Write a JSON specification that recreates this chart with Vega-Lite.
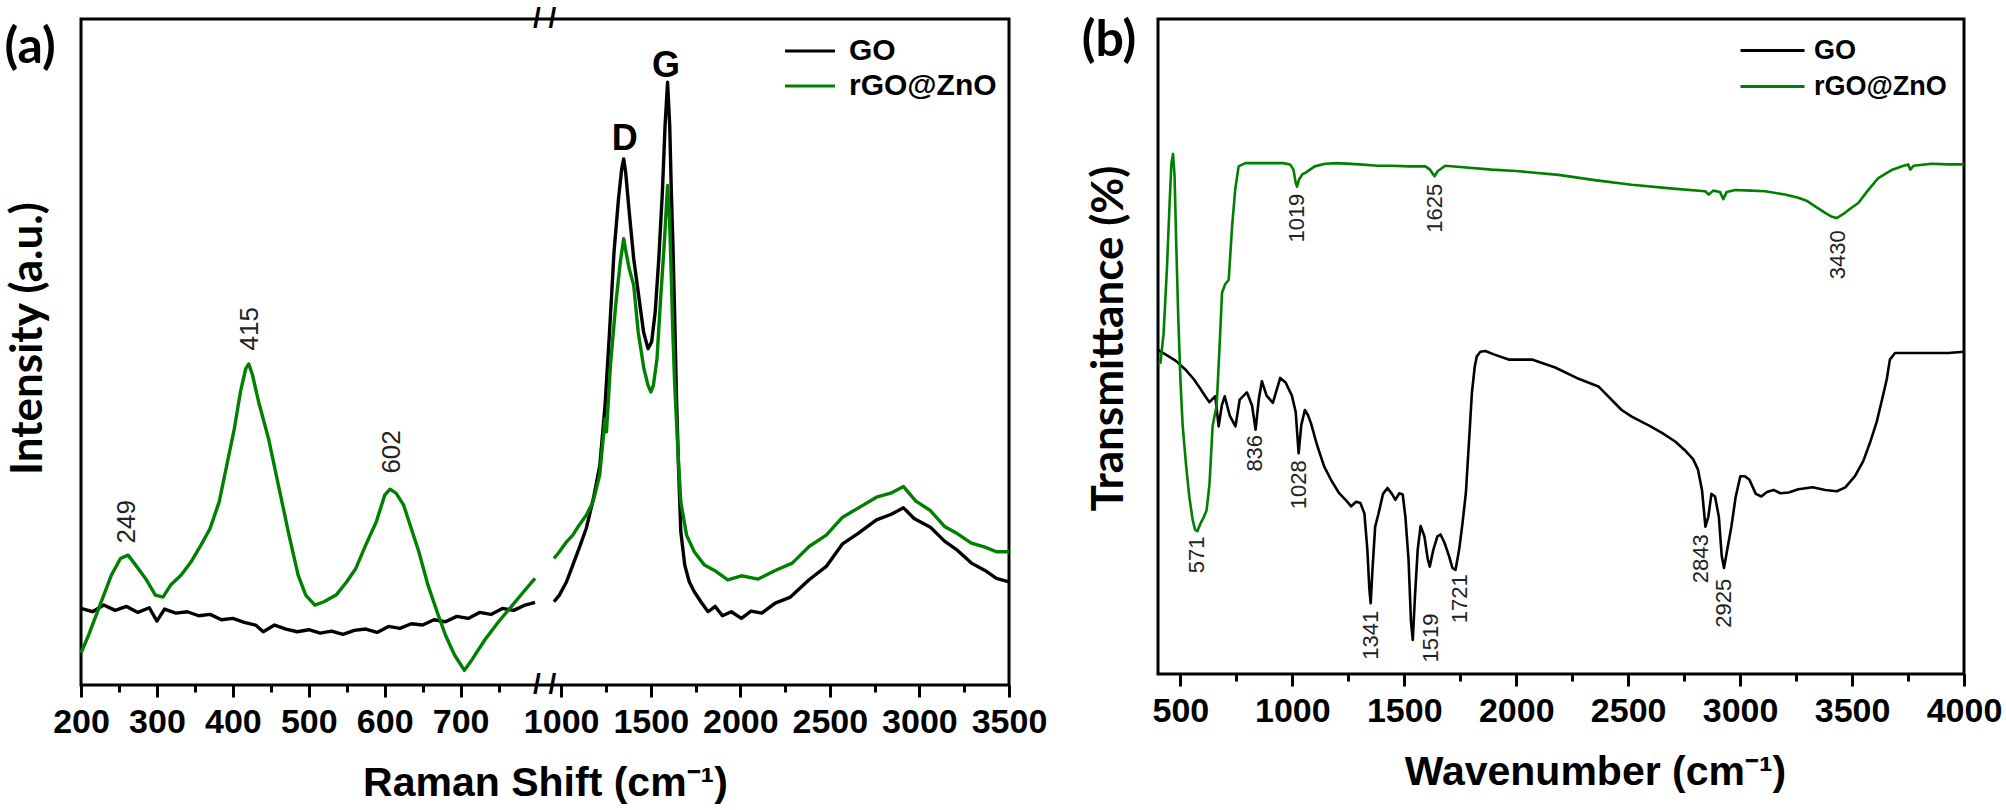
{
  "$schema": "https://vega.github.io/schema/vega-lite/v6.json",
  "background": "white",
  "padding": {"left": 3, "top": 3, "right": 5, "bottom": 2},
  "spacing": 31,
  "config": {
    "view": {"stroke": "black", "strokeWidth": 3},
    "axis": {
      "labelFont": "Liberation Sans",
      "labelFontWeight": "bold", "labelFontSize": 34, "labelColor": "black", "labelOverlap": false, "labelFlush": false,
      "tickColor": "black", "tickWidth": 3, "grid": false, "domain": false,
      "titleFont": "Liberation Sans",
      "titleFontWeight": "bold", "titleFontSize": 41, "titleColor": "black"
    },
    "legend": {
      "orient": "none", "title": null, "symbolStrokeWidth": 3,
      "labelFont": "Liberation Sans", "labelFontWeight": "bold", "labelColor": "black",
      "padding": 0
    }
  },
  "datasets": {
    "raman": [
      {"sample": "GO", "part": "L", "shift": 200, "intensity": 11.5},
      {"sample": "GO", "part": "L", "shift": 215, "intensity": 11.0},
      {"sample": "GO", "part": "L", "shift": 230, "intensity": 12.0},
      {"sample": "GO", "part": "L", "shift": 245, "intensity": 11.2},
      {"sample": "GO", "part": "L", "shift": 260, "intensity": 11.8},
      {"sample": "GO", "part": "L", "shift": 275, "intensity": 10.9},
      {"sample": "GO", "part": "L", "shift": 290, "intensity": 11.6},
      {"sample": "GO", "part": "L", "shift": 300, "intensity": 9.6},
      {"sample": "GO", "part": "L", "shift": 310, "intensity": 11.4},
      {"sample": "GO", "part": "L", "shift": 325, "intensity": 10.8},
      {"sample": "GO", "part": "L", "shift": 340, "intensity": 11.0},
      {"sample": "GO", "part": "L", "shift": 355, "intensity": 10.4},
      {"sample": "GO", "part": "L", "shift": 370, "intensity": 10.6},
      {"sample": "GO", "part": "L", "shift": 385, "intensity": 9.8},
      {"sample": "GO", "part": "L", "shift": 400, "intensity": 10.0},
      {"sample": "GO", "part": "L", "shift": 415, "intensity": 9.4},
      {"sample": "GO", "part": "L", "shift": 430, "intensity": 9.0},
      {"sample": "GO", "part": "L", "shift": 440, "intensity": 8.0},
      {"sample": "GO", "part": "L", "shift": 455, "intensity": 9.0},
      {"sample": "GO", "part": "L", "shift": 470, "intensity": 8.4},
      {"sample": "GO", "part": "L", "shift": 485, "intensity": 8.0},
      {"sample": "GO", "part": "L", "shift": 500, "intensity": 8.3},
      {"sample": "GO", "part": "L", "shift": 515, "intensity": 7.8},
      {"sample": "GO", "part": "L", "shift": 530, "intensity": 8.1},
      {"sample": "GO", "part": "L", "shift": 545, "intensity": 7.6},
      {"sample": "GO", "part": "L", "shift": 560, "intensity": 8.2},
      {"sample": "GO", "part": "L", "shift": 575, "intensity": 8.4},
      {"sample": "GO", "part": "L", "shift": 590, "intensity": 7.9},
      {"sample": "GO", "part": "L", "shift": 605, "intensity": 8.8},
      {"sample": "GO", "part": "L", "shift": 620, "intensity": 8.5},
      {"sample": "GO", "part": "L", "shift": 635, "intensity": 9.2},
      {"sample": "GO", "part": "L", "shift": 650, "intensity": 9.0},
      {"sample": "GO", "part": "L", "shift": 665, "intensity": 9.8},
      {"sample": "GO", "part": "L", "shift": 680, "intensity": 9.5},
      {"sample": "GO", "part": "L", "shift": 695, "intensity": 10.3},
      {"sample": "GO", "part": "L", "shift": 710, "intensity": 10.0},
      {"sample": "GO", "part": "L", "shift": 725, "intensity": 10.9},
      {"sample": "GO", "part": "L", "shift": 740, "intensity": 10.6},
      {"sample": "GO", "part": "L", "shift": 755, "intensity": 11.5},
      {"sample": "GO", "part": "L", "shift": 770, "intensity": 11.2},
      {"sample": "GO", "part": "L", "shift": 785, "intensity": 12.0},
      {"sample": "GO", "part": "L", "shift": 798, "intensity": 12.4},
      {"sample": "rGO@ZnO", "part": "L", "shift": 200, "intensity": 4.8},
      {"sample": "rGO@ZnO", "part": "L", "shift": 210, "intensity": 7.5},
      {"sample": "rGO@ZnO", "part": "L", "shift": 225, "intensity": 12.0},
      {"sample": "rGO@ZnO", "part": "L", "shift": 240, "intensity": 16.5},
      {"sample": "rGO@ZnO", "part": "L", "shift": 252, "intensity": 19.0},
      {"sample": "rGO@ZnO", "part": "L", "shift": 262, "intensity": 19.5},
      {"sample": "rGO@ZnO", "part": "L", "shift": 272, "intensity": 18.0},
      {"sample": "rGO@ZnO", "part": "L", "shift": 285, "intensity": 16.0},
      {"sample": "rGO@ZnO", "part": "L", "shift": 298, "intensity": 13.5},
      {"sample": "rGO@ZnO", "part": "L", "shift": 308, "intensity": 13.2},
      {"sample": "rGO@ZnO", "part": "L", "shift": 318, "intensity": 15.0},
      {"sample": "rGO@ZnO", "part": "L", "shift": 332, "intensity": 16.5},
      {"sample": "rGO@ZnO", "part": "L", "shift": 345, "intensity": 18.5},
      {"sample": "rGO@ZnO", "part": "L", "shift": 358, "intensity": 21.0},
      {"sample": "rGO@ZnO", "part": "L", "shift": 370, "intensity": 23.5},
      {"sample": "rGO@ZnO", "part": "L", "shift": 382, "intensity": 27.5},
      {"sample": "rGO@ZnO", "part": "L", "shift": 392, "intensity": 33.0},
      {"sample": "rGO@ZnO", "part": "L", "shift": 402, "intensity": 38.5},
      {"sample": "rGO@ZnO", "part": "L", "shift": 410, "intensity": 44.0},
      {"sample": "rGO@ZnO", "part": "L", "shift": 417, "intensity": 47.5},
      {"sample": "rGO@ZnO", "part": "L", "shift": 421, "intensity": 48.2},
      {"sample": "rGO@ZnO", "part": "L", "shift": 426, "intensity": 46.5},
      {"sample": "rGO@ZnO", "part": "L", "shift": 434, "intensity": 42.5},
      {"sample": "rGO@ZnO", "part": "L", "shift": 447, "intensity": 37.0},
      {"sample": "rGO@ZnO", "part": "L", "shift": 460, "intensity": 30.0},
      {"sample": "rGO@ZnO", "part": "L", "shift": 474, "intensity": 22.5},
      {"sample": "rGO@ZnO", "part": "L", "shift": 486, "intensity": 16.5},
      {"sample": "rGO@ZnO", "part": "L", "shift": 496, "intensity": 13.5},
      {"sample": "rGO@ZnO", "part": "L", "shift": 508, "intensity": 12.0},
      {"sample": "rGO@ZnO", "part": "L", "shift": 520, "intensity": 12.5},
      {"sample": "rGO@ZnO", "part": "L", "shift": 536, "intensity": 13.5},
      {"sample": "rGO@ZnO", "part": "L", "shift": 550, "intensity": 15.5},
      {"sample": "rGO@ZnO", "part": "L", "shift": 562, "intensity": 17.5},
      {"sample": "rGO@ZnO", "part": "L", "shift": 575, "intensity": 21.0},
      {"sample": "rGO@ZnO", "part": "L", "shift": 589, "intensity": 24.5},
      {"sample": "rGO@ZnO", "part": "L", "shift": 600, "intensity": 28.5},
      {"sample": "rGO@ZnO", "part": "L", "shift": 607, "intensity": 29.4},
      {"sample": "rGO@ZnO", "part": "L", "shift": 615, "intensity": 28.8},
      {"sample": "rGO@ZnO", "part": "L", "shift": 625, "intensity": 27.0},
      {"sample": "rGO@ZnO", "part": "L", "shift": 635, "intensity": 23.5},
      {"sample": "rGO@ZnO", "part": "L", "shift": 645, "intensity": 20.0},
      {"sample": "rGO@ZnO", "part": "L", "shift": 657, "intensity": 15.0},
      {"sample": "rGO@ZnO", "part": "L", "shift": 669, "intensity": 11.0},
      {"sample": "rGO@ZnO", "part": "L", "shift": 680, "intensity": 7.5},
      {"sample": "rGO@ZnO", "part": "L", "shift": 692, "intensity": 4.5},
      {"sample": "rGO@ZnO", "part": "L", "shift": 705, "intensity": 2.2},
      {"sample": "rGO@ZnO", "part": "L", "shift": 715, "intensity": 3.8},
      {"sample": "rGO@ZnO", "part": "L", "shift": 732, "intensity": 6.8},
      {"sample": "rGO@ZnO", "part": "L", "shift": 750, "intensity": 9.5},
      {"sample": "rGO@ZnO", "part": "L", "shift": 767, "intensity": 11.8},
      {"sample": "rGO@ZnO", "part": "L", "shift": 783, "intensity": 14.0},
      {"sample": "rGO@ZnO", "part": "L", "shift": 798, "intensity": 16.0},
      {"sample": "GO", "part": "R", "shift": 960, "intensity": 12.5},
      {"sample": "GO", "part": "R", "shift": 990, "intensity": 13.5},
      {"sample": "GO", "part": "R", "shift": 1030, "intensity": 15.5},
      {"sample": "GO", "part": "R", "shift": 1065, "intensity": 18.0},
      {"sample": "GO", "part": "R", "shift": 1100, "intensity": 20.5},
      {"sample": "GO", "part": "R", "shift": 1140, "intensity": 23.5},
      {"sample": "GO", "part": "R", "shift": 1180, "intensity": 28.0},
      {"sample": "GO", "part": "R", "shift": 1216, "intensity": 33.0},
      {"sample": "GO", "part": "R", "shift": 1245, "intensity": 42.0},
      {"sample": "GO", "part": "R", "shift": 1270, "intensity": 53.0},
      {"sample": "GO", "part": "R", "shift": 1295, "intensity": 65.0},
      {"sample": "GO", "part": "R", "shift": 1320, "intensity": 73.0},
      {"sample": "GO", "part": "R", "shift": 1338, "intensity": 77.5},
      {"sample": "GO", "part": "R", "shift": 1349, "intensity": 79.0},
      {"sample": "GO", "part": "R", "shift": 1360, "intensity": 77.0},
      {"sample": "GO", "part": "R", "shift": 1380, "intensity": 71.0},
      {"sample": "GO", "part": "R", "shift": 1405, "intensity": 64.0},
      {"sample": "GO", "part": "R", "shift": 1430, "intensity": 59.0},
      {"sample": "GO", "part": "R", "shift": 1460, "intensity": 53.0},
      {"sample": "GO", "part": "R", "shift": 1485, "intensity": 50.5},
      {"sample": "GO", "part": "R", "shift": 1505, "intensity": 51.5},
      {"sample": "GO", "part": "R", "shift": 1525, "intensity": 56.0},
      {"sample": "GO", "part": "R", "shift": 1545, "intensity": 64.0},
      {"sample": "GO", "part": "R", "shift": 1565, "intensity": 74.0},
      {"sample": "GO", "part": "R", "shift": 1580, "intensity": 84.0},
      {"sample": "GO", "part": "R", "shift": 1594, "intensity": 90.5},
      {"sample": "GO", "part": "R", "shift": 1606, "intensity": 84.0},
      {"sample": "GO", "part": "R", "shift": 1615, "intensity": 74.0},
      {"sample": "GO", "part": "R", "shift": 1624, "intensity": 66.0},
      {"sample": "GO", "part": "R", "shift": 1634, "intensity": 55.0},
      {"sample": "GO", "part": "R", "shift": 1644, "intensity": 43.0},
      {"sample": "GO", "part": "R", "shift": 1656, "intensity": 32.0},
      {"sample": "GO", "part": "R", "shift": 1668, "intensity": 23.0},
      {"sample": "GO", "part": "R", "shift": 1690, "intensity": 18.0},
      {"sample": "GO", "part": "R", "shift": 1715, "intensity": 15.5},
      {"sample": "GO", "part": "R", "shift": 1743, "intensity": 14.0},
      {"sample": "GO", "part": "R", "shift": 1780, "intensity": 12.5},
      {"sample": "GO", "part": "R", "shift": 1820, "intensity": 11.0},
      {"sample": "GO", "part": "R", "shift": 1860, "intensity": 11.8},
      {"sample": "GO", "part": "R", "shift": 1900, "intensity": 10.4},
      {"sample": "GO", "part": "R", "shift": 1950, "intensity": 11.0},
      {"sample": "GO", "part": "R", "shift": 2006, "intensity": 10.0},
      {"sample": "GO", "part": "R", "shift": 2060, "intensity": 11.1},
      {"sample": "GO", "part": "R", "shift": 2120, "intensity": 10.8},
      {"sample": "GO", "part": "R", "shift": 2195, "intensity": 12.3},
      {"sample": "GO", "part": "R", "shift": 2280, "intensity": 13.2},
      {"sample": "GO", "part": "R", "shift": 2384, "intensity": 15.8},
      {"sample": "GO", "part": "R", "shift": 2480, "intensity": 17.8},
      {"sample": "GO", "part": "R", "shift": 2571, "intensity": 21.2},
      {"sample": "GO", "part": "R", "shift": 2660, "intensity": 22.8},
      {"sample": "GO", "part": "R", "shift": 2760, "intensity": 24.8},
      {"sample": "GO", "part": "R", "shift": 2840, "intensity": 25.6},
      {"sample": "GO", "part": "R", "shift": 2911, "intensity": 26.6},
      {"sample": "GO", "part": "R", "shift": 2970, "intensity": 25.0},
      {"sample": "GO", "part": "R", "shift": 3061, "intensity": 23.7},
      {"sample": "GO", "part": "R", "shift": 3140, "intensity": 21.6},
      {"sample": "GO", "part": "R", "shift": 3213, "intensity": 20.2},
      {"sample": "GO", "part": "R", "shift": 3290, "intensity": 18.3},
      {"sample": "GO", "part": "R", "shift": 3366, "intensity": 17.2},
      {"sample": "GO", "part": "R", "shift": 3430, "intensity": 16.0},
      {"sample": "GO", "part": "R", "shift": 3500, "intensity": 15.5},
      {"sample": "rGO@ZnO", "part": "R", "shift": 960, "intensity": 19.0},
      {"sample": "rGO@ZnO", "part": "R", "shift": 990, "intensity": 20.0},
      {"sample": "rGO@ZnO", "part": "R", "shift": 1030, "intensity": 21.5},
      {"sample": "rGO@ZnO", "part": "R", "shift": 1065, "intensity": 22.5},
      {"sample": "rGO@ZnO", "part": "R", "shift": 1100, "intensity": 24.0},
      {"sample": "rGO@ZnO", "part": "R", "shift": 1140, "intensity": 25.5},
      {"sample": "rGO@ZnO", "part": "R", "shift": 1178, "intensity": 27.5},
      {"sample": "rGO@ZnO", "part": "R", "shift": 1215, "intensity": 31.5},
      {"sample": "rGO@ZnO", "part": "R", "shift": 1245, "intensity": 40.0},
      {"sample": "rGO@ZnO", "part": "R", "shift": 1253, "intensity": 38.0},
      {"sample": "rGO@ZnO", "part": "R", "shift": 1275, "intensity": 48.0},
      {"sample": "rGO@ZnO", "part": "R", "shift": 1306, "intensity": 57.5},
      {"sample": "rGO@ZnO", "part": "R", "shift": 1330, "intensity": 63.5},
      {"sample": "rGO@ZnO", "part": "R", "shift": 1349, "intensity": 67.0},
      {"sample": "rGO@ZnO", "part": "R", "shift": 1362, "intensity": 65.0},
      {"sample": "rGO@ZnO", "part": "R", "shift": 1380, "intensity": 62.5},
      {"sample": "rGO@ZnO", "part": "R", "shift": 1405, "intensity": 60.0},
      {"sample": "rGO@ZnO", "part": "R", "shift": 1430, "intensity": 53.0},
      {"sample": "rGO@ZnO", "part": "R", "shift": 1462, "intensity": 47.5},
      {"sample": "rGO@ZnO", "part": "R", "shift": 1485, "intensity": 45.0},
      {"sample": "rGO@ZnO", "part": "R", "shift": 1501, "intensity": 44.0},
      {"sample": "rGO@ZnO", "part": "R", "shift": 1515, "intensity": 45.0},
      {"sample": "rGO@ZnO", "part": "R", "shift": 1535, "intensity": 49.0},
      {"sample": "rGO@ZnO", "part": "R", "shift": 1554, "intensity": 57.5},
      {"sample": "rGO@ZnO", "part": "R", "shift": 1575, "intensity": 66.0},
      {"sample": "rGO@ZnO", "part": "R", "shift": 1594, "intensity": 75.0},
      {"sample": "rGO@ZnO", "part": "R", "shift": 1605, "intensity": 70.0},
      {"sample": "rGO@ZnO", "part": "R", "shift": 1614, "intensity": 62.0},
      {"sample": "rGO@ZnO", "part": "R", "shift": 1624, "intensity": 52.5},
      {"sample": "rGO@ZnO", "part": "R", "shift": 1634, "intensity": 45.0},
      {"sample": "rGO@ZnO", "part": "R", "shift": 1644, "intensity": 39.5},
      {"sample": "rGO@ZnO", "part": "R", "shift": 1656, "intensity": 33.0},
      {"sample": "rGO@ZnO", "part": "R", "shift": 1668, "intensity": 27.5},
      {"sample": "rGO@ZnO", "part": "R", "shift": 1700, "intensity": 22.5},
      {"sample": "rGO@ZnO", "part": "R", "shift": 1743, "intensity": 20.0},
      {"sample": "rGO@ZnO", "part": "R", "shift": 1800, "intensity": 18.0},
      {"sample": "rGO@ZnO", "part": "R", "shift": 1856, "intensity": 17.2},
      {"sample": "rGO@ZnO", "part": "R", "shift": 1930, "intensity": 15.8},
      {"sample": "rGO@ZnO", "part": "R", "shift": 2006, "intensity": 16.4},
      {"sample": "rGO@ZnO", "part": "R", "shift": 2100, "intensity": 15.9},
      {"sample": "rGO@ZnO", "part": "R", "shift": 2195, "intensity": 17.2},
      {"sample": "rGO@ZnO", "part": "R", "shift": 2290, "intensity": 18.3},
      {"sample": "rGO@ZnO", "part": "R", "shift": 2384, "intensity": 20.8},
      {"sample": "rGO@ZnO", "part": "R", "shift": 2480, "intensity": 22.5},
      {"sample": "rGO@ZnO", "part": "R", "shift": 2571, "intensity": 25.2},
      {"sample": "rGO@ZnO", "part": "R", "shift": 2660, "intensity": 26.6},
      {"sample": "rGO@ZnO", "part": "R", "shift": 2760, "intensity": 28.2},
      {"sample": "rGO@ZnO", "part": "R", "shift": 2840, "intensity": 28.8},
      {"sample": "rGO@ZnO", "part": "R", "shift": 2911, "intensity": 29.8},
      {"sample": "rGO@ZnO", "part": "R", "shift": 2980, "intensity": 27.6},
      {"sample": "rGO@ZnO", "part": "R", "shift": 3061, "intensity": 26.2},
      {"sample": "rGO@ZnO", "part": "R", "shift": 3140, "intensity": 23.8},
      {"sample": "rGO@ZnO", "part": "R", "shift": 3213, "intensity": 22.7},
      {"sample": "rGO@ZnO", "part": "R", "shift": 3290, "intensity": 21.3},
      {"sample": "rGO@ZnO", "part": "R", "shift": 3366, "intensity": 20.7},
      {"sample": "rGO@ZnO", "part": "R", "shift": 3430, "intensity": 20.0},
      {"sample": "rGO@ZnO", "part": "R", "shift": 3500, "intensity": 20.0}
    ],
    "ramanPeaks": [
      {"shift": 260, "intensity": 24.5, "label": "249"},
      {"shift": 423, "intensity": 53.5, "label": "415"},
      {"shift": 610, "intensity": 35, "label": "602"}
    ],
    "ramanBands": [
      {"shift": 1355, "intensity": 82, "label": "D"},
      {"shift": 1585, "intensity": 93, "label": "G"}
    ],
    "ftir": [
      {"sample": "GO", "wavenumber": 400, "transmittance": 49.5},
      {"sample": "GO", "wavenumber": 448, "transmittance": 48.5},
      {"sample": "GO", "wavenumber": 480, "transmittance": 47.8},
      {"sample": "GO", "wavenumber": 522, "transmittance": 46.5},
      {"sample": "GO", "wavenumber": 560, "transmittance": 45.0},
      {"sample": "GO", "wavenumber": 590, "transmittance": 43.5},
      {"sample": "GO", "wavenumber": 611, "transmittance": 42.4},
      {"sample": "GO", "wavenumber": 630, "transmittance": 41.5},
      {"sample": "GO", "wavenumber": 656, "transmittance": 42.4},
      {"sample": "GO", "wavenumber": 671, "transmittance": 37.8},
      {"sample": "GO", "wavenumber": 685, "transmittance": 41.0},
      {"sample": "GO", "wavenumber": 698, "transmittance": 42.4},
      {"sample": "GO", "wavenumber": 720, "transmittance": 39.5},
      {"sample": "GO", "wavenumber": 746, "transmittance": 37.8},
      {"sample": "GO", "wavenumber": 765, "transmittance": 41.9},
      {"sample": "GO", "wavenumber": 797, "transmittance": 43.0},
      {"sample": "GO", "wavenumber": 820, "transmittance": 41.0},
      {"sample": "GO", "wavenumber": 836, "transmittance": 37.3},
      {"sample": "GO", "wavenumber": 850, "transmittance": 41.9},
      {"sample": "GO", "wavenumber": 864, "transmittance": 44.7},
      {"sample": "GO", "wavenumber": 885, "transmittance": 42.5},
      {"sample": "GO", "wavenumber": 913, "transmittance": 41.4},
      {"sample": "GO", "wavenumber": 946, "transmittance": 45.2},
      {"sample": "GO", "wavenumber": 970, "transmittance": 44.5},
      {"sample": "GO", "wavenumber": 998, "transmittance": 42.5},
      {"sample": "GO", "wavenumber": 1015, "transmittance": 40.0},
      {"sample": "GO", "wavenumber": 1028, "transmittance": 33.7},
      {"sample": "GO", "wavenumber": 1040, "transmittance": 38.0},
      {"sample": "GO", "wavenumber": 1056, "transmittance": 40.3},
      {"sample": "GO", "wavenumber": 1070, "transmittance": 39.5},
      {"sample": "GO", "wavenumber": 1083, "transmittance": 38.3},
      {"sample": "GO", "wavenumber": 1110, "transmittance": 35.0},
      {"sample": "GO", "wavenumber": 1142, "transmittance": 31.7},
      {"sample": "GO", "wavenumber": 1175, "transmittance": 29.5},
      {"sample": "GO", "wavenumber": 1209, "transmittance": 27.6},
      {"sample": "GO", "wavenumber": 1240, "transmittance": 26.5},
      {"sample": "GO", "wavenumber": 1263, "transmittance": 25.6},
      {"sample": "GO", "wavenumber": 1285, "transmittance": 26.3},
      {"sample": "GO", "wavenumber": 1304, "transmittance": 26.1},
      {"sample": "GO", "wavenumber": 1322, "transmittance": 24.5},
      {"sample": "GO", "wavenumber": 1335, "transmittance": 19.0},
      {"sample": "GO", "wavenumber": 1344, "transmittance": 13.0},
      {"sample": "GO", "wavenumber": 1350, "transmittance": 10.8},
      {"sample": "GO", "wavenumber": 1358, "transmittance": 16.0},
      {"sample": "GO", "wavenumber": 1370, "transmittance": 22.5},
      {"sample": "GO", "wavenumber": 1385, "transmittance": 24.5},
      {"sample": "GO", "wavenumber": 1405, "transmittance": 27.5},
      {"sample": "GO", "wavenumber": 1425, "transmittance": 28.4},
      {"sample": "GO", "wavenumber": 1445, "transmittance": 27.5},
      {"sample": "GO", "wavenumber": 1460, "transmittance": 26.6},
      {"sample": "GO", "wavenumber": 1478, "transmittance": 27.6},
      {"sample": "GO", "wavenumber": 1493, "transmittance": 27.4},
      {"sample": "GO", "wavenumber": 1505, "transmittance": 24.0},
      {"sample": "GO", "wavenumber": 1519, "transmittance": 17.5},
      {"sample": "GO", "wavenumber": 1530, "transmittance": 8.0},
      {"sample": "GO", "wavenumber": 1538, "transmittance": 5.2},
      {"sample": "GO", "wavenumber": 1548, "transmittance": 12.0},
      {"sample": "GO", "wavenumber": 1560, "transmittance": 19.0},
      {"sample": "GO", "wavenumber": 1573, "transmittance": 22.6},
      {"sample": "GO", "wavenumber": 1590, "transmittance": 21.0},
      {"sample": "GO", "wavenumber": 1605, "transmittance": 17.5},
      {"sample": "GO", "wavenumber": 1614, "transmittance": 16.4},
      {"sample": "GO", "wavenumber": 1630, "transmittance": 19.0},
      {"sample": "GO", "wavenumber": 1648, "transmittance": 21.0},
      {"sample": "GO", "wavenumber": 1662, "transmittance": 21.3},
      {"sample": "GO", "wavenumber": 1680, "transmittance": 20.0},
      {"sample": "GO", "wavenumber": 1700, "transmittance": 18.0},
      {"sample": "GO", "wavenumber": 1715, "transmittance": 16.2},
      {"sample": "GO", "wavenumber": 1729, "transmittance": 15.9},
      {"sample": "GO", "wavenumber": 1745, "transmittance": 19.0},
      {"sample": "GO", "wavenumber": 1760, "transmittance": 23.0},
      {"sample": "GO", "wavenumber": 1775, "transmittance": 27.6},
      {"sample": "GO", "wavenumber": 1790, "transmittance": 36.0},
      {"sample": "GO", "wavenumber": 1802, "transmittance": 42.9},
      {"sample": "GO", "wavenumber": 1815, "transmittance": 47.0},
      {"sample": "GO", "wavenumber": 1824, "transmittance": 48.5},
      {"sample": "GO", "wavenumber": 1840, "transmittance": 49.2},
      {"sample": "GO", "wavenumber": 1862, "transmittance": 49.3},
      {"sample": "GO", "wavenumber": 1900, "transmittance": 48.8},
      {"sample": "GO", "wavenumber": 1966, "transmittance": 48.0},
      {"sample": "GO", "wavenumber": 2070, "transmittance": 48.0},
      {"sample": "GO", "wavenumber": 2174, "transmittance": 46.8},
      {"sample": "GO", "wavenumber": 2270, "transmittance": 45.2},
      {"sample": "GO", "wavenumber": 2367, "transmittance": 43.9},
      {"sample": "GO", "wavenumber": 2471, "transmittance": 40.3},
      {"sample": "GO", "wavenumber": 2516, "transmittance": 39.3},
      {"sample": "GO", "wavenumber": 2600, "transmittance": 37.8},
      {"sample": "GO", "wavenumber": 2651, "transmittance": 36.8},
      {"sample": "GO", "wavenumber": 2710, "transmittance": 35.5},
      {"sample": "GO", "wavenumber": 2758, "transmittance": 34.0},
      {"sample": "GO", "wavenumber": 2790, "transmittance": 32.8},
      {"sample": "GO", "wavenumber": 2812, "transmittance": 31.2},
      {"sample": "GO", "wavenumber": 2830, "transmittance": 28.0},
      {"sample": "GO", "wavenumber": 2845, "transmittance": 22.5},
      {"sample": "GO", "wavenumber": 2858, "transmittance": 24.0},
      {"sample": "GO", "wavenumber": 2872, "transmittance": 27.5},
      {"sample": "GO", "wavenumber": 2888, "transmittance": 27.1},
      {"sample": "GO", "wavenumber": 2905, "transmittance": 24.0},
      {"sample": "GO", "wavenumber": 2918, "transmittance": 18.0},
      {"sample": "GO", "wavenumber": 2928, "transmittance": 16.2},
      {"sample": "GO", "wavenumber": 2940, "transmittance": 18.5},
      {"sample": "GO", "wavenumber": 2961, "transmittance": 22.5},
      {"sample": "GO", "wavenumber": 2980, "transmittance": 27.0},
      {"sample": "GO", "wavenumber": 3001, "transmittance": 30.2},
      {"sample": "GO", "wavenumber": 3020, "transmittance": 30.2},
      {"sample": "GO", "wavenumber": 3041, "transmittance": 29.7},
      {"sample": "GO", "wavenumber": 3070, "transmittance": 27.5},
      {"sample": "GO", "wavenumber": 3095, "transmittance": 27.1},
      {"sample": "GO", "wavenumber": 3120, "transmittance": 27.8},
      {"sample": "GO", "wavenumber": 3149, "transmittance": 28.1},
      {"sample": "GO", "wavenumber": 3180, "transmittance": 27.6},
      {"sample": "GO", "wavenumber": 3217, "transmittance": 27.7},
      {"sample": "GO", "wavenumber": 3260, "transmittance": 28.2},
      {"sample": "GO", "wavenumber": 3324, "transmittance": 28.5},
      {"sample": "GO", "wavenumber": 3380, "transmittance": 28.1},
      {"sample": "GO", "wavenumber": 3432, "transmittance": 27.9},
      {"sample": "GO", "wavenumber": 3470, "transmittance": 28.5},
      {"sample": "GO", "wavenumber": 3513, "transmittance": 30.2},
      {"sample": "GO", "wavenumber": 3550, "transmittance": 32.5},
      {"sample": "GO", "wavenumber": 3580, "transmittance": 35.3},
      {"sample": "GO", "wavenumber": 3610, "transmittance": 38.5},
      {"sample": "GO", "wavenumber": 3634, "transmittance": 41.9},
      {"sample": "GO", "wavenumber": 3655, "transmittance": 45.0},
      {"sample": "GO", "wavenumber": 3669, "transmittance": 48.0},
      {"sample": "GO", "wavenumber": 3692, "transmittance": 49.0},
      {"sample": "GO", "wavenumber": 3760, "transmittance": 49.0},
      {"sample": "GO", "wavenumber": 3855, "transmittance": 49.0},
      {"sample": "GO", "wavenumber": 3930, "transmittance": 49.0},
      {"sample": "GO", "wavenumber": 4000, "transmittance": 49.2},
      {"sample": "rGO@ZnO", "wavenumber": 400, "transmittance": 47.5},
      {"sample": "rGO@ZnO", "wavenumber": 411, "transmittance": 47.5},
      {"sample": "rGO@ZnO", "wavenumber": 425, "transmittance": 52.0},
      {"sample": "rGO@ZnO", "wavenumber": 440, "transmittance": 62.0},
      {"sample": "rGO@ZnO", "wavenumber": 452, "transmittance": 72.0},
      {"sample": "rGO@ZnO", "wavenumber": 460, "transmittance": 78.0},
      {"sample": "rGO@ZnO", "wavenumber": 467, "transmittance": 79.4},
      {"sample": "rGO@ZnO", "wavenumber": 474, "transmittance": 76.0},
      {"sample": "rGO@ZnO", "wavenumber": 482, "transmittance": 65.0},
      {"sample": "rGO@ZnO", "wavenumber": 490, "transmittance": 55.0},
      {"sample": "rGO@ZnO", "wavenumber": 500, "transmittance": 45.0},
      {"sample": "rGO@ZnO", "wavenumber": 510, "transmittance": 38.0},
      {"sample": "rGO@ZnO", "wavenumber": 525, "transmittance": 32.0},
      {"sample": "rGO@ZnO", "wavenumber": 540, "transmittance": 27.0},
      {"sample": "rGO@ZnO", "wavenumber": 555, "transmittance": 23.5},
      {"sample": "rGO@ZnO", "wavenumber": 566, "transmittance": 22.0},
      {"sample": "rGO@ZnO", "wavenumber": 576, "transmittance": 21.8},
      {"sample": "rGO@ZnO", "wavenumber": 590, "transmittance": 23.0},
      {"sample": "rGO@ZnO", "wavenumber": 605, "transmittance": 24.0},
      {"sample": "rGO@ZnO", "wavenumber": 617, "transmittance": 25.0},
      {"sample": "rGO@ZnO", "wavenumber": 630, "transmittance": 29.0},
      {"sample": "rGO@ZnO", "wavenumber": 644, "transmittance": 37.9},
      {"sample": "rGO@ZnO", "wavenumber": 662, "transmittance": 41.0},
      {"sample": "rGO@ZnO", "wavenumber": 675, "transmittance": 50.0},
      {"sample": "rGO@ZnO", "wavenumber": 686, "transmittance": 58.2},
      {"sample": "rGO@ZnO", "wavenumber": 700, "transmittance": 59.5},
      {"sample": "rGO@ZnO", "wavenumber": 716, "transmittance": 60.2},
      {"sample": "rGO@ZnO", "wavenumber": 731, "transmittance": 68.4},
      {"sample": "rGO@ZnO", "wavenumber": 745, "transmittance": 74.0},
      {"sample": "rGO@ZnO", "wavenumber": 760, "transmittance": 77.5},
      {"sample": "rGO@ZnO", "wavenumber": 790, "transmittance": 78.0},
      {"sample": "rGO@ZnO", "wavenumber": 850, "transmittance": 78.0},
      {"sample": "rGO@ZnO", "wavenumber": 900, "transmittance": 78.0},
      {"sample": "rGO@ZnO", "wavenumber": 960, "transmittance": 78.0},
      {"sample": "rGO@ZnO", "wavenumber": 990, "transmittance": 77.8},
      {"sample": "rGO@ZnO", "wavenumber": 1005, "transmittance": 77.0},
      {"sample": "rGO@ZnO", "wavenumber": 1015, "transmittance": 75.0},
      {"sample": "rGO@ZnO", "wavenumber": 1021, "transmittance": 74.4},
      {"sample": "rGO@ZnO", "wavenumber": 1030, "transmittance": 75.5},
      {"sample": "rGO@ZnO", "wavenumber": 1045, "transmittance": 76.3},
      {"sample": "rGO@ZnO", "wavenumber": 1058, "transmittance": 76.5},
      {"sample": "rGO@ZnO", "wavenumber": 1100, "transmittance": 77.5},
      {"sample": "rGO@ZnO", "wavenumber": 1147, "transmittance": 77.9},
      {"sample": "rGO@ZnO", "wavenumber": 1200, "transmittance": 78.0},
      {"sample": "rGO@ZnO", "wavenumber": 1300, "transmittance": 77.8},
      {"sample": "rGO@ZnO", "wavenumber": 1380, "transmittance": 77.6},
      {"sample": "rGO@ZnO", "wavenumber": 1445, "transmittance": 77.6},
      {"sample": "rGO@ZnO", "wavenumber": 1520, "transmittance": 77.5},
      {"sample": "rGO@ZnO", "wavenumber": 1594, "transmittance": 77.5},
      {"sample": "rGO@ZnO", "wavenumber": 1615, "transmittance": 77.0},
      {"sample": "rGO@ZnO", "wavenumber": 1635, "transmittance": 76.0},
      {"sample": "rGO@ZnO", "wavenumber": 1650, "transmittance": 76.8},
      {"sample": "rGO@ZnO", "wavenumber": 1683, "transmittance": 77.6},
      {"sample": "rGO@ZnO", "wavenumber": 1750, "transmittance": 77.4},
      {"sample": "rGO@ZnO", "wavenumber": 1891, "transmittance": 77.0},
      {"sample": "rGO@ZnO", "wavenumber": 2000, "transmittance": 76.8},
      {"sample": "rGO@ZnO", "wavenumber": 2189, "transmittance": 76.2},
      {"sample": "rGO@ZnO", "wavenumber": 2350, "transmittance": 75.4},
      {"sample": "rGO@ZnO", "wavenumber": 2516, "transmittance": 74.7},
      {"sample": "rGO@ZnO", "wavenumber": 2700, "transmittance": 74.1},
      {"sample": "rGO@ZnO", "wavenumber": 2844, "transmittance": 73.7},
      {"sample": "rGO@ZnO", "wavenumber": 2860, "transmittance": 73.2},
      {"sample": "rGO@ZnO", "wavenumber": 2880, "transmittance": 73.8},
      {"sample": "rGO@ZnO", "wavenumber": 2910, "transmittance": 73.6},
      {"sample": "rGO@ZnO", "wavenumber": 2925, "transmittance": 72.5},
      {"sample": "rGO@ZnO", "wavenumber": 2940, "transmittance": 73.6},
      {"sample": "rGO@ZnO", "wavenumber": 2978, "transmittance": 73.9},
      {"sample": "rGO@ZnO", "wavenumber": 3050, "transmittance": 73.8},
      {"sample": "rGO@ZnO", "wavenumber": 3112, "transmittance": 73.7},
      {"sample": "rGO@ZnO", "wavenumber": 3200, "transmittance": 73.2},
      {"sample": "rGO@ZnO", "wavenumber": 3260, "transmittance": 72.7},
      {"sample": "rGO@ZnO", "wavenumber": 3300, "transmittance": 72.2},
      {"sample": "rGO@ZnO", "wavenumber": 3335, "transmittance": 71.4},
      {"sample": "rGO@ZnO", "wavenumber": 3380, "transmittance": 70.4},
      {"sample": "rGO@ZnO", "wavenumber": 3410, "transmittance": 69.8},
      {"sample": "rGO@ZnO", "wavenumber": 3431, "transmittance": 69.6},
      {"sample": "rGO@ZnO", "wavenumber": 3460, "transmittance": 70.2},
      {"sample": "rGO@ZnO", "wavenumber": 3490, "transmittance": 71.0},
      {"sample": "rGO@ZnO", "wavenumber": 3528, "transmittance": 71.9},
      {"sample": "rGO@ZnO", "wavenumber": 3570, "transmittance": 73.8},
      {"sample": "rGO@ZnO", "wavenumber": 3617, "transmittance": 75.7},
      {"sample": "rGO@ZnO", "wavenumber": 3680, "transmittance": 77.0},
      {"sample": "rGO@ZnO", "wavenumber": 3730, "transmittance": 77.6},
      {"sample": "rGO@ZnO", "wavenumber": 3751, "transmittance": 77.8},
      {"sample": "rGO@ZnO", "wavenumber": 3760, "transmittance": 77.0},
      {"sample": "rGO@ZnO", "wavenumber": 3775, "transmittance": 77.6},
      {"sample": "rGO@ZnO", "wavenumber": 3855, "transmittance": 77.9},
      {"sample": "rGO@ZnO", "wavenumber": 3930, "transmittance": 77.8},
      {"sample": "rGO@ZnO", "wavenumber": 4000, "transmittance": 77.8}
    ],
    "ftirPeaks": [
      {"wavenumber": 576, "transmittance": 18.2, "label": "571"},
      {"wavenumber": 1021, "transmittance": 69.6, "label": "1019"},
      {"wavenumber": 1638, "transmittance": 71.1, "label": "1625"},
      {"wavenumber": 3439, "transmittance": 64.0, "label": "3430"},
      {"wavenumber": 832, "transmittance": 33.7, "label": "836"},
      {"wavenumber": 1028, "transmittance": 28.9, "label": "1028"},
      {"wavenumber": 1350, "transmittance": 5.9, "label": "1341"},
      {"wavenumber": 1619, "transmittance": 5.5, "label": "1519"},
      {"wavenumber": 1748, "transmittance": 11.5, "label": "1721"},
      {"wavenumber": 2826, "transmittance": 17.6, "label": "2843"},
      {"wavenumber": 2928, "transmittance": 10.8, "label": "2925"}
    ]
  },
  "hconcat": [
    {
      "width": 928,
      "height": 666,
      "layer": [
        {
          "data": {"name": "raman"},
          "mark": {"type": "line", "strokeWidth": 3.4, "strokeJoin": "round"},
          "encoding": {
            "x": {"field": "shift", "type": "quantitative",
              "scale": {"domain": [200, 798, 960, 3500], "range": [0, 454, 473, 928], "zero": false, "nice": false},
              "axis": {"orient": "bottom", "values": [200, 300, 400, 500, 600, 700, 1000, 1500, 2000, 2500, 3000, 3500], "format": "d",
                "title": "Raman Shift (cm⁻¹)", "tickSize": 12, "labelPadding": 8, "titlePadding": 24}},
            "y": {"field": "intensity", "type": "quantitative",
              "scale": {"domain": [0, 100], "zero": false, "nice": false},
              "axis": {"title": "Intensity (a.u.)", "labels": false, "ticks": false, "titlePadding": 31,
                "titleFont": "Lato", "titleFontSize": 44, "titleY": 319}},
            "color": {"field": "sample", "type": "nominal",
              "scale": {"domain": ["GO", "rGO@ZnO"], "range": ["#000000", "#008000"]},
              "legend": {"legendX": 714, "legendY": 17, "symbolType": "M-2.5,0H2.5", "symbolSize": 400, "labelFontSize": 30, "labelOffset": 24, "rowPadding": 5}},
            "detail": {"field": "part", "type": "nominal"}
          }
        },
        {
          "data": {"name": "ramanPeaks"},
          "mark": {"type": "text", "angle": 270, "font": "Liberation Sans", "fontSize": 26, "color": "#222222", "align": "center", "baseline": "middle"},
          "encoding": {
            "x": {"field": "shift", "type": "quantitative",
              "axis": {"orient": "bottom", "values": [250, 350, 450, 550, 650, 750, 1250, 1750, 2250, 2750, 3250], "labels": false, "tickSize": 7, "title": null}},
            "y": {"field": "intensity", "type": "quantitative", "axis": null},
            "text": {"field": "label"}
          }
        },
        {
          "data": {"name": "ramanBands"},
          "mark": {"type": "text", "font": "Liberation Sans", "fontWeight": "bold", "fontSize": 36, "color": "black", "align": "center", "baseline": "middle"},
          "encoding": {
            "x": {"field": "shift", "type": "quantitative", "axis": null},
            "y": {"field": "intensity", "type": "quantitative", "axis": null},
            "text": {"field": "label"}
          }
        },
        {
          "data": {"values": [{"edge": 0}, {"edge": 100}]},
          "mark": {"type": "text", "text": "/ /", "font": "Liberation Sans", "fontWeight": "bold", "fontSize": 28, "color": "black", "align": "center", "baseline": "middle"},
          "encoding": {
            "x": {"datum": 880, "type": "quantitative", "axis": null},
            "y": {"field": "edge", "type": "quantitative", "axis": null}
          }
        },
        {
          "data": {"values": [{"tag": "(a)"}]},
          "mark": {"type": "text", "font": "Lato", "fontWeight": "bold", "fontSize": 50, "color": "black", "align": "center", "baseline": "middle"},
          "encoding": {
            "x": {"datum": 133, "type": "quantitative", "axis": null},
            "y": {"datum": 95.6, "type": "quantitative", "axis": null},
            "text": {"field": "tag"}
          }
        }
      ],
      "resolve": {"axis": {"x": "independent", "y": "independent"}}
    },
    {
      "width": 806,
      "height": 655,
      "title": {"text": " ", "fontSize": 2, "offset": 5},
      "layer": [
        {
          "data": {"name": "ftir"},
          "mark": {"type": "line", "strokeWidth": 2.6, "strokeJoin": "round"},
          "encoding": {
            "x": {"field": "wavenumber", "type": "quantitative",
              "scale": {"domain": [400, 4000], "zero": false, "nice": false},
              "axis": {"orient": "bottom", "values": [500, 1000, 1500, 2000, 2500, 3000, 3500, 4000], "format": "d",
                "title": "Wavenumber (cm⁻¹)", "tickSize": 12, "labelPadding": 8, "titlePadding": 24, "titleX": 437}},
            "y": {"field": "transmittance", "type": "quantitative",
              "scale": {"domain": [0, 100], "zero": false, "nice": false},
              "axis": {"title": "Transmittance (%)", "labels": false, "ticks": false, "titlePadding": 27,
                "titleFont": "Lato", "titleFontSize": 44, "titleY": 319}},
            "color": {"field": "sample", "type": "nominal",
              "scale": {"domain": ["GO", "rGO@ZnO"], "range": ["#000000", "#008000"]},
              "legend": {"legendX": 601, "legendY": 18, "symbolType": "M-3.2,0H3.2", "symbolSize": 400, "labelFontSize": 27, "labelOffset": 28, "rowPadding": 8}}
          }
        },
        {
          "data": {"name": "ftirPeaks"},
          "mark": {"type": "text", "angle": 270, "font": "Liberation Sans", "fontSize": 22, "color": "#222222", "align": "center", "baseline": "middle"},
          "encoding": {
            "x": {"field": "wavenumber", "type": "quantitative",
              "axis": {"orient": "bottom", "values": [750, 1250, 1750, 2250, 2750, 3250, 3750], "labels": false, "tickSize": 7, "title": null}},
            "y": {"field": "transmittance", "type": "quantitative", "axis": null},
            "text": {"field": "label"}
          }
        },
        {
          "data": {"values": [{"tag": "(b)"}]},
          "mark": {"type": "text", "font": "Lato", "fontWeight": "bold", "fontSize": 50, "color": "black", "align": "center", "baseline": "middle"},
          "encoding": {
            "x": {"datum": 181, "type": "quantitative", "axis": null},
            "y": {"datum": 96.6, "type": "quantitative", "axis": null},
            "text": {"field": "tag"}
          }
        }
      ],
      "resolve": {"axis": {"x": "independent", "y": "independent"}}
    }
  ],
  "resolve": {"scale": {"color": "independent"}, "legend": {"color": "independent"}}
}
